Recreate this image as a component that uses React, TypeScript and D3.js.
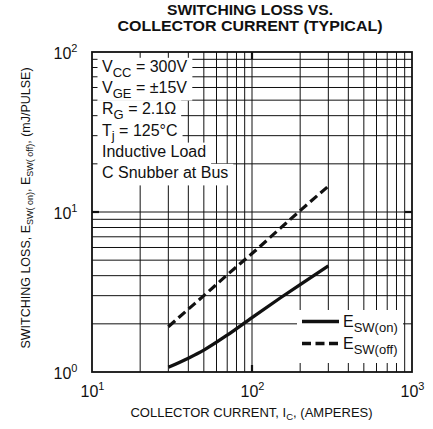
import React, { useEffect, useRef } from "react";
import * as d3 from "d3";

// ---- data ----
const currentA = [30, 40, 50, 70, 100, 150, 200, 300];
const eSwOn = [1.07, 1.22, 1.37, 1.7, 2.19, 2.9, 3.52, 4.6];
const eSwOff = [1.92, 2.47, 3.0, 4.05, 5.5, 7.9, 10.2, 14.5];
const xDecades = [10, 100, 1000];
const xDecadeExp = ["1", "2", "3"];
const yDecades = [1, 10, 100];
const yDecadeExp = ["0", "1", "2"];
const titleLines = ["SWITCHING LOSS VS.", "COLLECTOR CURRENT (TYPICAL)"];
const conditions: [string, string, string][] = [
  ["V", "CC", " = 300V"],
  ["V", "GE", " = ±15V"],
  ["R", "G", " = 2.1Ω"],
  ["T", "j", " = 125°C"],
  ["Inductive Load", "", ""],
  ["C Snubber at Bus", "", ""],
];
const legendItems = [
  { name: "SW(on)", dash: "" },
  { name: "SW(off)", dash: "9,4.5" },
];

const W = 433;
const H = 429;
const FONT = "'Liberation Sans', Arial, Helvetica, sans-serif";

export default function App() {
  const ref = useRef<SVGSVGElement | null>(null);

  useEffect(() => {
    const svg = d3.select(ref.current);
    svg.selectAll("*").remove();

    const x = d3.scaleLog().domain([10, 1000]).range([92, 412]);
    const y = d3.scaleLog().domain([1, 100]).range([372, 52]);
    const [x0, x1] = x.range();
    const [y0, y1] = [y(1), y(100)];

    const g = svg.append("g");

    // title
    const titleWidths = [166, 265];
    titleLines.forEach((t, i) => {
      g.append("text")
        .attr("x", 250)
        .attr("y", 15 + i * 16.2)
        .attr("text-anchor", "middle")
        .attr("font-family", FONT)
        .attr("font-weight", "bold")
        .attr("font-size", 14)
        .attr("textLength", titleWidths[i])
        .attr("lengthAdjust", "spacingAndGlyphs")
        .attr("fill", "#111")
        .text(t);
    });

    // grid
    const xMinor: number[] = [];
    const yMinor: number[] = [];
    [10, 100].forEach((d) => {
      for (let k = 2; k <= 9; k++) xMinor.push(d * k);
    });
    [1, 10].forEach((d) => {
      for (let k = 2; k <= 9; k++) yMinor.push(d * k);
    });
    const grid = g.append("g").attr("stroke", "#111").attr("stroke-width", 1);
    [...xMinor, 100].forEach((v) => {
      grid.append("line").attr("x1", x(v)).attr("x2", x(v)).attr("y1", y1).attr("y2", y0);
    });
    [...yMinor, 10].forEach((v) => {
      grid.append("line").attr("x1", x0).attr("x2", x1).attr("y1", y(v)).attr("y2", y(v));
    });

    // curves
    const line = d3
      .line<number>()
      .x((_, i) => x(currentA[i]))
      .y((d) => y(d))
      .curve(d3.curveMonotoneX);
    g.append("path")
      .attr("d", line(eSwOn) || "")
      .attr("fill", "none")
      .attr("stroke", "#111")
      .attr("stroke-width", 3.3);
    g.append("path")
      .attr("d", line(eSwOff) || "")
      .attr("fill", "none")
      .attr("stroke", "#111")
      .attr("stroke-width", 3.2)
      .attr("stroke-dasharray", "9,4.5");

    // conditions box
    const rects = g.append("g");
    const texts = g.append("g");
    const textX = 102;
    const lineH = 21.2;
    conditions.forEach((c, i) => {
      const base = 72 + i * lineH;
      const t = texts
        .append("text")
        .attr("x", textX)
        .attr("y", base)
        .attr("font-family", FONT)
        .attr("font-size", 16)
        .attr("fill", "#111");
      t.append("tspan").text(c[0]);
      if (c[1]) {
        t.append("tspan").attr("font-size", 13).attr("dy", 4.5).text(c[1]);
        t.append("tspan").attr("dy", -4.5).text(c[2]);
      }
      const w = (t.node() as SVGTextElement).getBBox().width;
      rects
        .append("rect")
        .attr("x", 97.5)
        .attr("y", base - 14.2)
        .attr("width", textX - 97.5 + w + 5)
        .attr("height", lineH + 0.4)
        .attr("fill", "#fff");
    });

    // legend
    g.append("rect")
      .attr("x", 297)
      .attr("y", 310)
      .attr("width", 106)
      .attr("height", 53)
      .attr("fill", "#fff");
    legendItems.forEach((it, i) => {
      const ly = 321.5 + i * 22;
      g.append("line")
        .attr("x1", 302)
        .attr("x2", 339)
        .attr("y1", ly)
        .attr("y2", ly)
        .attr("stroke", "#111")
        .attr("stroke-width", 3.3)
        .attr("stroke-dasharray", it.dash || null);
      const t = g
        .append("text")
        .attr("x", 343)
        .attr("y", ly + 5.5)
        .attr("font-family", FONT)
        .attr("font-size", 16)
        .attr("fill", "#111");
      t.append("tspan").text("E");
      t.append("tspan").attr("font-size", 13).attr("dy", 5).text(it.name);
    });

    // frame
    g.append("rect")
      .attr("x", x0)
      .attr("y", y1)
      .attr("width", x1 - x0)
      .attr("height", y0 - y1)
      .attr("fill", "none")
      .attr("stroke", "#111")
      .attr("stroke-width", 1.8);

    // major decade tick stubs
    const majT = g.append("g").attr("stroke", "#111").attr("stroke-width", 2.2);
    majT.append("line").attr("x1", x(100)).attr("x2", x(100)).attr("y1", y1).attr("y2", y1 + 7);
    majT.append("line").attr("x1", x(100)).attr("x2", x(100)).attr("y1", y0).attr("y2", y0 - 7);
    majT.append("line").attr("x1", x0).attr("x2", x0 + 7).attr("y1", y(10)).attr("y2", y(10));
    majT.append("line").attr("x1", x1).attr("x2", x1 - 7).attr("y1", y(10)).attr("y2", y(10));

    // x tick labels
    xDecades.forEach((v, i) => {
      const t = g
        .append("text")
        .attr("x", x(v) - 11.5)
        .attr("y", 397)
        .attr("font-family", FONT)
        .attr("font-size", 16)
        .attr("fill", "#111");
      t.append("tspan").text("10");
      t.append("tspan").attr("font-size", 11).attr("dy", -7).text(xDecadeExp[i]);
    });

    // y tick labels
    yDecades.forEach((v, i) => {
      const t = g
        .append("text")
        .attr("x", 53.5)
        .attr("y", y(v) + 6.5)
        .attr("font-family", FONT)
        .attr("font-size", 16)
        .attr("fill", "#111");
      t.append("tspan").text("10");
      t.append("tspan").attr("font-size", 11).attr("dy", -7).text(yDecadeExp[i]);
    });

    // x axis label
    const xl = g
      .append("text")
      .attr("x", 251.5)
      .attr("y", 417)
      .attr("text-anchor", "middle")
      .attr("font-family", FONT)
      .attr("font-size", 13)
      .attr("fill", "#111");
    xl.append("tspan").text("COLLECTOR CURRENT, I");
    xl.append("tspan").attr("font-size", 9.5).attr("dy", 3).text("C");
    xl.append("tspan").attr("dy", -3).text(", (AMPERES)");

    // y axis label
    const yl = g
      .append("text")
      .attr("transform", "translate(30,208) rotate(-90)")
      .attr("text-anchor", "middle")
      .attr("font-family", FONT)
      .attr("font-size", 12.5)
      .attr("fill", "#111");
    yl.append("tspan").text("SWITCHING LOSS, E");
    yl.append("tspan").attr("font-size", 9).attr("dy", 3).text("SW( on)");
    yl.append("tspan").attr("dy", -3).text(", E");
    yl.append("tspan").attr("font-size", 9).attr("dy", 3).text("SW( off)");
    yl.append("tspan").attr("dy", -3).text(", (mJ/PULSE)");
  }, []);

  return (
    <svg
      ref={ref}
      width={W}
      height={H}
      viewBox={`0 0 ${W} ${H}`}
      style={{ position: "absolute", left: 0, top: 0, background: "#fff" }}
    />
  );
}
